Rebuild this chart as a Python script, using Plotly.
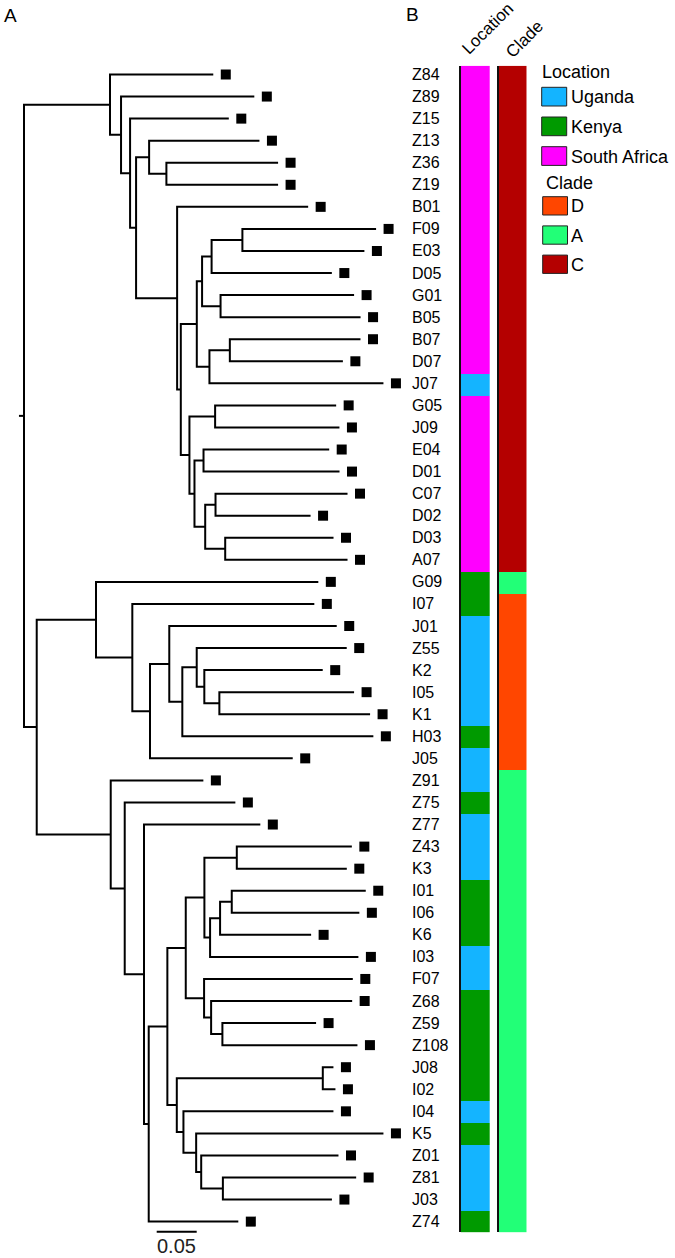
import plotly.graph_objects as go

# ---------------- data ----------------
# Phylogenetic tree (branch lengths, substitutions/site), written as Newick pieces
CLADE_SA_A = ("((((F09:0.1671,E03:0.1525):0.0385,D05:0.1503):0.0119,(G01:0.1669,B05:0.175):0.0231):0.0066,"
              "((B07:0.1633,D07:0.1413):0.0255,J07:0.2175):0.0158)")
CLADE_SA_B = ("((G05:0.1513,J09:0.1554):0.0321,((E04:0.1571,D01:0.17):0.0113,"
              "((C07:0.165,D02:0.1188):0.0129,(D03:0.1354,A07:0.1529):0.025):0.0134):0.0063)")
CLADE_SA = ("(Z84:0.1291,(Z89:0.1666,(Z15:0.1234,((Z13:0.1379,(Z36:0.1396,Z19:0.1396):0.0216):0.0163,"
            "(B01:0.1638,(" + CLADE_SA_A + ":0.02," + CLADE_SA_B + ":0.0108):0.0046):0.0513):0.0075):0.0113):0.0138)")
CLADE_D = ("(G09:0.2779,(I07:0.2275,((J01:0.2093,((Z55:0.1875,(K2:0.148,(I05:0.1684,K1:0.1884):0.0188):0.0095):0.018,"
           "H03:0.2388):0.0163):0.0241,J05:0.1784):0.0221):0.0454)")
CLADE_A_1 = ("(((Z43:0.1438,K3:0.1375):0.0405,(((I01:0.1675,I06:0.1595):0.0146,K6:0.1138):0.0125,I03:0.1854):0.0071):0.0233,"
             "(F07:0.1859,(Z68:0.1763,(Z59:0.1171,Z108:0.1688):0.0141):0.0088):0.0229)")
CLADE_A_2 = ("((J08:0.0133,I02:0.0158):0.1825,(I04:0.1875,(K5:0.2341,(Z01:0.1716,(Z81:0.1666,J03:0.1363):0.0271)"
             ":0.0063):0.0159):0.0083)")
CLADE_A = ("(Z91:0.1158,(Z75:0.1383,(Z77:0.1454,((" + CLADE_A_1 + ":0.023," + CLADE_A_2 + ":0.0118):0.0233,"
           "Z74:0.112):0.0059):0.0241):0.0175)")
NEWICK = "(" + CLADE_SA + ":0.1075,(" + CLADE_D + ":0.0741," + CLADE_A + ":0.0925):0.0159):0.0063;"

TIPS = ["Z84", "Z89", "Z15", "Z13", "Z36", "Z19", "B01", "F09", "E03", "D05", "G01", "B05", "B07", "D07",
        "J07", "G05", "J09", "E04", "D01", "C07", "D02", "D03", "A07", "G09", "I07", "J01", "Z55", "K2",
        "I05", "K1", "H03", "J05", "Z91", "Z75", "Z77", "Z43", "K3", "I01", "I06", "K6", "I03", "F07",
        "Z68", "Z59", "Z108", "J08", "I02", "I04", "K5", "Z01", "Z81", "J03", "Z74"]

# S = South Africa, U = Uganda, K = Kenya
LOCATION = ["S", "S", "S", "S", "S", "S", "S", "S", "S", "S", "S", "S", "S", "S",
            "U", "S", "S", "S", "S", "S", "S", "S", "S", "K", "K", "U", "U", "U",
            "U", "U", "K", "U", "U", "K", "U", "U", "U", "K", "K", "K", "U", "U",
            "K", "K", "K", "K", "K", "U", "K", "U", "U", "U", "K"]
CLADE = ["C", "C", "C", "C", "C", "C", "C", "C", "C", "C", "C", "C", "C", "C",
         "C", "C", "C", "C", "C", "C", "C", "C", "C", "A", "D", "D", "D", "D",
         "D", "D", "D", "D", "A", "A", "A", "A", "A", "A", "A", "A", "A", "A",
         "A", "A", "A", "A", "A", "A", "A", "A", "A", "A", "A"]

LOC_KEYS = ["U", "K", "S"]
LOC_NAMES = ["Uganda", "Kenya", "South Africa"]
LOC_COLORS = ["#14B4FF", "#009A00", "#FF00FF"]
CLADE_KEYS = ["D", "A", "C"]
CLADE_COLORS = ["#FF4600", "#22FF77", "#B40000"]
SCALE_LEN = 0.05
SCALE_LABEL = "0.05"

# ---------------- layout constants (pixels) ----------------
W, H = 675, 1258
PX_PER_UNIT = 800.0
ROOT_PX = 24.0
ROW0_PX, ROW_PX = 74.5, 22.06
MARK_GAP = 12.5 / PX_PER_UNIT
FONT = "Liberation Sans, Arial, sans-serif"


def parse_newick(s):
    pos = 0

    def node():
        nonlocal pos
        children = []
        if s[pos] == "(":
            pos += 1
            while True:
                children.append(node())
                if s[pos] == ",":
                    pos += 1
                elif s[pos] == ")":
                    pos += 1
                    break
                else:
                    raise ValueError("bad newick at %d: %r" % (pos, s[pos]))
        start = pos
        while s[pos] not in ",():;":
            pos += 1
        name = s[start:pos]
        length = 0.0
        if s[pos] == ":":
            pos += 1
            start = pos
            while s[pos] not in ",();":
                pos += 1
            length = float(s[start:pos])
        return {"name": name, "len": length, "children": children}

    return node()


root = parse_newick(NEWICK)
tips_in_tree = []


def place(n, x):
    n["x"] = x
    if not n["children"]:
        n["y"] = len(tips_in_tree)
        tips_in_tree.append(n)
    else:
        for c in n["children"]:
            place(c, x + c["len"])
        n["y"] = (n["children"][0]["y"] + n["children"][-1]["y"]) / 2.0


place(root, 0.0)
assert [t["name"] for t in tips_in_tree] == TIPS

lx, ly = [], []
lx += [-root["len"], 0.0, None]
ly += [root["y"], root["y"], None]


def edges(n):
    ch = n["children"]
    if not ch:
        return
    a, b = ch[0], ch[-1]
    lx.extend([a["x"], n["x"], n["x"], b["x"], None])
    ly.extend([a["y"], a["y"], b["y"], b["y"], None])
    for c in ch[1:-1]:
        lx.extend([n["x"], c["x"], None])
        ly.extend([c["y"], c["y"], None])
    for c in ch:
        edges(c)


edges(root)

fig = go.Figure()
fig.add_trace(go.Scatter(x=lx, y=ly, mode="lines", line=dict(color="black", width=2),
                         hoverinfo="skip", showlegend=False, xaxis="x", yaxis="y"))
fig.add_trace(go.Scatter(x=[t["x"] + MARK_GAP for t in tips_in_tree], y=[t["y"] for t in tips_in_tree],
                         mode="markers", marker=dict(symbol="square", size=10, color="black"),
                         text=TIPS, hoverinfo="text", showlegend=False, xaxis="x", yaxis="y"))

# scale bar
sb_x0 = (156.7 - ROOT_PX) / PX_PER_UNIT
sb_y = (1231.7 - ROW0_PX) / ROW_PX
fig.add_trace(go.Scatter(x=[sb_x0, sb_x0 + SCALE_LEN], y=[sb_y, sb_y], mode="lines",
                         line=dict(color="black", width=2), hoverinfo="skip", showlegend=False,
                         xaxis="x", yaxis="y"))


def disc_scale(colors):
    n = len(colors)
    return [[i / (n - 1), c] for i, c in enumerate(colors)]


rows = list(range(len(TIPS)))
fig.add_trace(go.Heatmap(z=[[LOC_KEYS.index(v)] for v in LOCATION], x=[0], y=rows,
                         zmin=0, zmax=len(LOC_KEYS) - 1, colorscale=disc_scale(LOC_COLORS),
                         showscale=False, xaxis="x2", yaxis="y2", hoverinfo="skip"))
fig.add_trace(go.Heatmap(z=[[CLADE_KEYS.index(v)] for v in CLADE], x=[0], y=rows,
                         zmin=0, zmax=len(CLADE_KEYS) - 1, colorscale=disc_scale(CLADE_COLORS),
                         showscale=False, xaxis="x3", yaxis="y3", hoverinfo="skip"))


def px_x(p):
    return p / W


def px_y(p):
    return 1 - p / H


bar_dom = [px_y(1232.3), px_y(65.7)]
hidden = dict(visible=True, showgrid=False, zeroline=False, showticklabels=False, ticks="", showline=False)

annotations = []
for t in tips_in_tree:
    annotations.append(dict(x=px_x(409.5), xref="paper", y=t["y"], yref="y", text=t["name"],
                            showarrow=False, xanchor="left", yanchor="middle",
                            font=dict(size=16, color="black", family=FONT)))

annotations += [
    dict(x=px_x(1.5), y=px_y(15.5), text="A", xref="paper", yref="paper", showarrow=False,
         xanchor="left", yanchor="middle", font=dict(size=19, color="black", family=FONT)),
    dict(x=px_x(404), y=px_y(14), text="B", xref="paper", yref="paper", showarrow=False,
         xanchor="left", yanchor="middle", font=dict(size=19, color="black", family=FONT)),
    dict(x=px_x(488), y=px_y(29), text="Location", xref="paper", yref="paper", showarrow=False,
         textangle=-45, xanchor="center", yanchor="middle", font=dict(size=17, color="black", family=FONT)),
    dict(x=px_x(524.5), y=px_y(40), text="Clade", xref="paper", yref="paper", showarrow=False,
         textangle=-45, xanchor="center", yanchor="middle", font=dict(size=17, color="black", family=FONT)),
    dict(x=(sb_x0 + SCALE_LEN / 2), xref="x", y=px_y(1245.5), yref="paper", text=SCALE_LABEL,
         showarrow=False, xanchor="center", yanchor="middle", font=dict(size=20, color="#222", family=FONT)),
]

# manual legend
shapes = []


def legend_title(text, x, y):
    annotations.append(dict(x=px_x(x), y=px_y(y), text=text, xref="paper", yref="paper", showarrow=False,
                            xanchor="left", yanchor="middle", font=dict(size=18, color="black", family=FONT)))


def legend_item(text, color, x0, x1, y0, y1, tx):
    shapes.append(dict(type="rect", xref="paper", yref="paper", x0=px_x(x0), x1=px_x(x1),
                       y0=px_y(y1), y1=px_y(y0), fillcolor=color, line=dict(color="#222", width=1)))
    annotations.append(dict(x=px_x(tx), y=px_y((y0 + y1) / 2 + 0.5), text=text, xref="paper", yref="paper",
                            showarrow=False, xanchor="left", yanchor="middle",
                            font=dict(size=18, color="black", family=FONT)))


legend_title("Location", 539.5, 72)
for i, (nm, col) in enumerate(zip(LOC_NAMES, LOC_COLORS)):
    y0 = 87.3 + i * 29.7
    legend_item(nm, col, 541.7, 566.7, y0, y0 + 18.7, 569)
legend_title("Clade", 543.5, 183)
for i, (nm, col) in enumerate(zip(CLADE_KEYS, CLADE_COLORS)):
    y0 = 196.7 + i * 29.2
    legend_item(nm, col, 542.7, 567.5, y0, y0 + 18.3, 568.5)

fig.update_layout(
    width=W, height=H, margin=dict(l=0, r=0, t=0, b=0),
    paper_bgcolor="white", plot_bgcolor="rgba(0,0,0,0)",
    showlegend=False,
    xaxis=dict(domain=[0, 1], range=[-ROOT_PX / PX_PER_UNIT, (W - ROOT_PX) / PX_PER_UNIT], **hidden),
    yaxis=dict(domain=[0, 1], range=[(H - ROW0_PX) / ROW_PX, -ROW0_PX / ROW_PX], **hidden),
    xaxis2=dict(domain=[px_x(460.7), px_x(490.0)], range=[-0.5, 0.5], anchor="y2", **hidden),
    yaxis2=dict(domain=bar_dom, range=[len(TIPS) - 0.5, -0.5], anchor="x2", showgrid=False, zeroline=False,
                showticklabels=False, ticks="", showline=True, linecolor="#111", linewidth=2.4),
    xaxis3=dict(domain=[px_x(498.7), px_x(526.7)], range=[-0.5, 0.5], anchor="y3", **hidden),
    yaxis3=dict(domain=bar_dom, range=[len(TIPS) - 0.5, -0.5], anchor="x3", showgrid=False, zeroline=False,
                showticklabels=False, ticks="", showline=True, linecolor="#111", linewidth=2.4),
    annotations=annotations, shapes=shapes,
)

# remove the page's default body margin so the 675x1258 figure fills the window exactly
fig.write_html("out.html", config={"displayModeBar": False},
               post_script="document.body.style.margin='0';")
